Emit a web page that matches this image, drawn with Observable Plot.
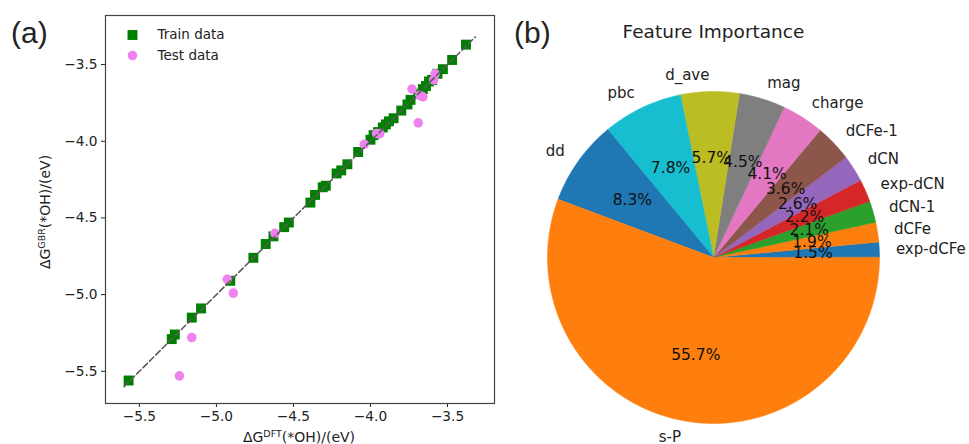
<!DOCTYPE html>
<html>
<head>
<meta charset="utf-8">
<script src="https://cdn.jsdelivr.net/npm/d3@7"></script>
<script src="https://cdn.jsdelivr.net/npm/@observablehq/plot@0.6"></script>
<style>
  html, body { margin: 0; padding: 0; background: #fff; }
  #wrap { position: relative; width: 969px; height: 444px; overflow: hidden; background: #fff; }
  #pa { position: absolute; left: 0; top: 0; width: 500px; height: 444px; }
  #pb { position: absolute; left: 500px; top: 0; width: 469px; height: 444px; }
</style>
</head>
<body>
<div id="wrap"><div id="pa"></div><div id="pb"></div></div>
<script>
// ---------- Panel (a) data ----------
const trainX = [-5.57,-5.29,-5.27,-5.16,-5.10,-4.91,-4.76,-4.68,-4.63,-4.56,-4.53,-4.39,-4.36,-4.31,-4.29,-4.22,-4.19,-4.15,-4.08,-4.00,-3.98,-3.95,-3.92,-3.90,-3.88,-3.85,-3.80,-3.76,-3.74,-3.69,-3.66,-3.64,-3.62,-3.60,-3.565,-3.53,-3.47,-3.38];
const trainY = [-5.56,-5.29,-5.26,-5.15,-5.09,-4.91,-4.76,-4.67,-4.62,-4.56,-4.53,-4.40,-4.35,-4.30,-4.29,-4.21,-4.19,-4.15,-4.07,-3.99,-3.96,-3.94,-3.91,-3.89,-3.87,-3.85,-3.80,-3.76,-3.73,-3.69,-3.66,-3.64,-3.61,-3.60,-3.56,-3.53,-3.47,-3.37];
const testX = [-5.24,-5.16,-4.93,-4.89,-4.62,-4.04,-3.96,-3.94,-3.69,-3.73,-3.68,-3.66,-3.59,-3.58];
const testY = [-5.53,-5.28,-4.90,-4.99,-4.60,-4.02,-3.95,-3.95,-3.88,-3.66,-3.70,-3.71,-3.60,-3.56];
const diagX = [-5.60, -3.32];
const diagY = [-5.60, -3.32];
const axisTicks = [-5.5, -5.0, -4.5, -4.0, -3.5];
const legendLabels = ["Train data", "Test data"];

// ---------- Panel (b) data ----------
const features = ["exp-dCFe","dCFe","dCN-1","exp-dCN","dCN","dCFe-1","charge","mag","d_ave","pbc","dd","s-P"];
const importance = [1.5,1.9,2.1,2.2,2.6,3.6,4.1,4.5,5.7,7.8,8.3,55.7];
const sliceColors = ["#1f77b4","#ff7f0e","#2ca02c","#d62728","#9467bd","#8c564b","#e377c2","#7f7f7f","#bcbd22","#17becf","#1f77b4","#ff7f0e"];

const FONT = "DejaVu Sans, Liberation Sans, sans-serif";

// ---------- Panel (a) ----------
const train = trainX.map((x, i) => ({x, y: trainY[i]}));
const test = testX.map((x, i) => ({x, y: testY[i]}));
const diag = diagX.map((x, i) => ({x, y: diagY[i]}));
const fmt = d3.format(".1f");

const plotA = Plot.plot({
  width: 500, height: 444,
  marginLeft: 105, marginRight: 6, marginTop: 15, marginBottom: 41,
  style: {fontFamily: FONT, fontSize: "13.7px", color: "#222", background: "#fff"},
  x: {domain: [-5.72, -3.195], ticks: axisTicks, tickFormat: fmt, tickSize: 4, tickPadding: 4, label: null},
  y: {domain: [-5.71, -3.18], ticks: axisTicks, tickFormat: fmt, tickSize: 4, tickPadding: 4, label: null},
  marks: [
    Plot.dot(train, {x: "x", y: "y", symbol: "square", r: 5.6, fill: "green", stroke: "none"}),
    Plot.dot(test, {x: "x", y: "y", symbol: "circle", r: 4.8, fill: "violet", stroke: "none"}),
    Plot.line(diag, {x: "x", y: "y", stroke: "#5a5a5a", strokeWidth: 1.6, strokeDasharray: "6,3"}),
    Plot.frame({stroke: "#444", strokeWidth: 1.2}),
    Plot.dot([legendLabels[0]], {frameAnchor: "top-left", dx: 27, dy: 19.5, symbol: "square", r: 5.6, fill: "green"}),
    Plot.dot([legendLabels[1]], {frameAnchor: "top-left", dx: 27, dy: 40, symbol: "circle", r: 4.8, fill: "violet"}),
    Plot.text([legendLabels[0]], {text: d => d, frameAnchor: "top-left", dx: 52, dy: 19.5, textAnchor: "start", lineAnchor: "middle", fontSize: 13.5, fill: "#222"}),
    Plot.text([legendLabels[1]], {text: d => d, frameAnchor: "top-left", dx: 52, dy: 40, textAnchor: "start", lineAnchor: "middle", fontSize: 13.5, fill: "#222"})
  ]
});
document.getElementById("pa").appendChild(plotA);

const sA = d3.select(plotA);
// x label (cut by the bottom edge as in the reference)
const xl = sA.append("text").attr("x", 299).attr("y", 442).attr("text-anchor", "middle")
  .attr("font-family", FONT).attr("font-size", 14).attr("fill", "#222");
xl.append("tspan").text("ΔG");
xl.append("tspan").attr("font-size", 9.5).attr("dy", -5).text("DFT");
xl.append("tspan").attr("dy", 5).text("(*OH)/(eV)");
// y label
const yl = sA.append("text").attr("transform", "translate(45,212) rotate(-90)").attr("y", 5)
  .attr("text-anchor", "middle").attr("font-family", FONT).attr("font-size", 14).attr("fill", "#222");
yl.append("tspan").text("ΔG");
yl.append("tspan").attr("font-size", 9.5).attr("dy", -5).text("GBR");
yl.append("tspan").attr("dy", 5).text("(*OH)/(eV)");
// panel tag
sA.append("text").attr("x", 11).attr("y", 43).attr("text-anchor", "start")
  .attr("font-family", "Liberation Sans, Arial, sans-serif")
  .attr("font-size", 30).attr("fill", "#222").text("(a)");

// ---------- Panel (b) ----------
const total = d3.sum(importance);
const slicePts = [];
const labelRows = [];
let cum = 0;
features.forEach((name, i) => {
  const a0 = cum / total * 2 * Math.PI;
  cum += importance[i];
  const a1 = cum / total * 2 * Math.PI;
  const n = Math.max(2, Math.ceil((a1 - a0) / (Math.PI / 360)));
  slicePts.push({name, color: sliceColors[i], px: 0, py: 0});
  for (let k = 0; k <= n; k++) {
    const a = a0 + (a1 - a0) * k / n;
    slicePts.push({name, color: sliceColors[i], px: Math.cos(a), py: Math.sin(a)});
  }
  const m = (a0 + a1) / 2;
  labelRows.push({
    name, pct: importance[i].toFixed(1) + "%",
    lx: 1.1 * Math.cos(m), ly: 1.1 * Math.sin(m),
    tx: 0.6 * Math.cos(m), ty: 0.6 * Math.sin(m),
    right: Math.cos(m) > 0
  });
});

const R = 166, CX = 213, CY = 257, W = 469, H = 444;
const plotB = Plot.plot({
  width: W, height: H,
  marginLeft: 0, marginRight: 0, marginTop: 0, marginBottom: 0,
  style: {fontFamily: FONT, background: "#fff"},
  x: {domain: [-CX / R, (W - CX) / R], axis: null},
  y: {domain: [-(H - CY) / R, CY / R], axis: null},
  color: {type: "identity"},
  marks: [
    Plot.line(slicePts, {x: "px", y: "py", z: "name", fill: "color", stroke: "color", strokeWidth: 0.5, curve: "linear-closed"}),
    Plot.text(labelRows.filter(d => d.right), {x: "lx", y: "ly", text: "name", textAnchor: "start", lineAnchor: "middle", fontSize: 15, fill: "#222"}),
    Plot.text(labelRows.filter(d => !d.right), {x: "lx", y: "ly", text: "name", textAnchor: "end", lineAnchor: "middle", fontSize: 15, fill: "#222"}),
    Plot.text(labelRows, {x: "tx", y: "ty", text: "pct", textAnchor: "middle", lineAnchor: "middle", fontSize: 15.5, fill: "#111"}),
    Plot.text(["Feature Importance"], {text: d => d, frameAnchor: "top-left", dx: 213, dy: 32, textAnchor: "middle", lineAnchor: "middle", fontSize: 18.5, fill: "#222"})
  ]
});
document.getElementById("pb").appendChild(plotB);
d3.select(plotB).append("text").attr("x", 14).attr("y", 43).attr("text-anchor", "start")
  .attr("font-family", "Liberation Sans, Arial, sans-serif")
  .attr("font-size", 30).attr("fill", "#222").text("(b)");
</script>
</body>
</html>
